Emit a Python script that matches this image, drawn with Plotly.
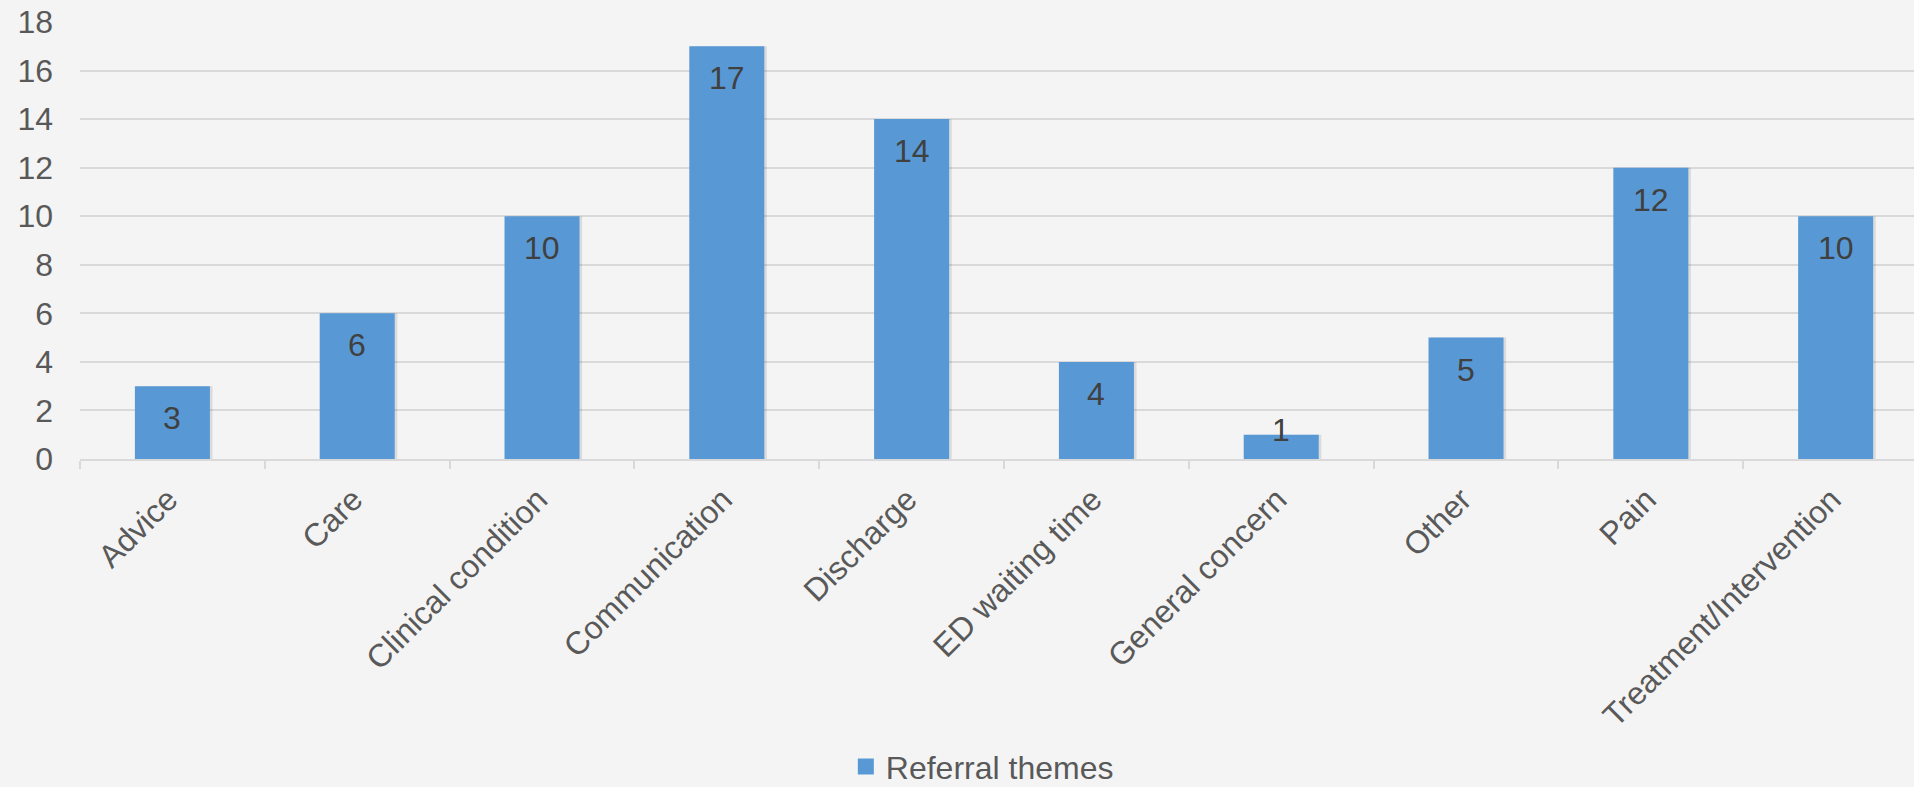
import plotly.graph_objects as go

# Referral themes and their counts
categories = [
    "Advice", "Care", "Clinical condition", "Communication", "Discharge",
    "ED waiting time", "General concern", "Other", "Pain", "Treatment/Intervention",
]
counts = [3, 6, 10, 17, 14, 4, 1, 5, 12, 10]
series_name = "Referral themes"
y_ticks = [0, 2, 4, 6, 8, 10, 12, 14, 16, 18]

W, H = 1914, 787
M_L, M_R, M_T, M_B = 80, 0, 22, 328
plot_h = H - M_T - M_B
y_max = 18

BG = "#f4f4f4"
GRID = "#d9d9d9"
BAR = "#5899d5"
FONT = "Liberation Sans, Arial, sans-serif"
FS = 32

fig = go.Figure()

# soft shadow behind each bar
fig.add_trace(go.Bar(
    x=categories, y=counts, width=0.406, offset=-0.203 + 0.014,
    marker=dict(color="rgba(0,0,0,0.10)", line=dict(width=0)),
    showlegend=False, hoverinfo="skip",
))

fig.add_trace(go.Bar(
    x=categories, y=counts, name=series_name, width=0.406, offset=-0.203,
    marker=dict(color=BAR, line=dict(width=0)),
    showlegend=False,
))

# legend key for the series
fig.add_trace(go.Scatter(
    x=[None], y=[None], mode="markers", name=series_name,
    marker=dict(symbol="square", size=16, color=BAR),
))

# value labels near the top of each bar
for c, v in zip(categories, counts):
    bar_px = v / y_max * plot_h
    shift = -32 if bar_px > 64 else 5
    fig.add_annotation(
        x=c, y=v, text=str(v), showarrow=False, yshift=shift,
        yanchor="middle", xanchor="center",
        font=dict(family=FONT, size=FS, color="#404040"),
    )

fig.update_layout(
    width=W, height=H,
    margin=dict(l=M_L, r=M_R, t=M_T, b=M_B, pad=0, autoexpand=False),
    paper_bgcolor=BG, plot_bgcolor=BG,
    barmode="overlay",
    font=dict(family=FONT, size=FS, color="#595959"),
    showlegend=True,
    legend=dict(
        orientation="h", x=0.492, xanchor="center", y=-0.704, yanchor="middle",
        font=dict(family=FONT, size=FS, color="#595959"),
        bgcolor="rgba(0,0,0,0)", itemwidth=30,
    ),
    xaxis=dict(
        type="category", range=[-0.5, 9.424], automargin=False,
        showgrid=False, zeroline=False,
        showline=True, linecolor=GRID, linewidth=2,
        ticks="outside", tickson="boundaries", ticklen=8, tickwidth=2, tickcolor=GRID,
        tickangle=-45, ticklabelstandoff=7, ticklabelshift=-4,
        tickfont=dict(family=FONT, size=FS, color="#595959"),
    ),
    yaxis=dict(
        range=[0, y_max], tickvals=y_ticks, automargin=False,
        showgrid=True, gridcolor=GRID, gridwidth=2,
        zeroline=False, showline=False, ticks="",
        ticklabelstandoff=26,
        tickfont=dict(family=FONT, size=FS, color="#595959"),
    ),
)

fig.write_html("out.html")
